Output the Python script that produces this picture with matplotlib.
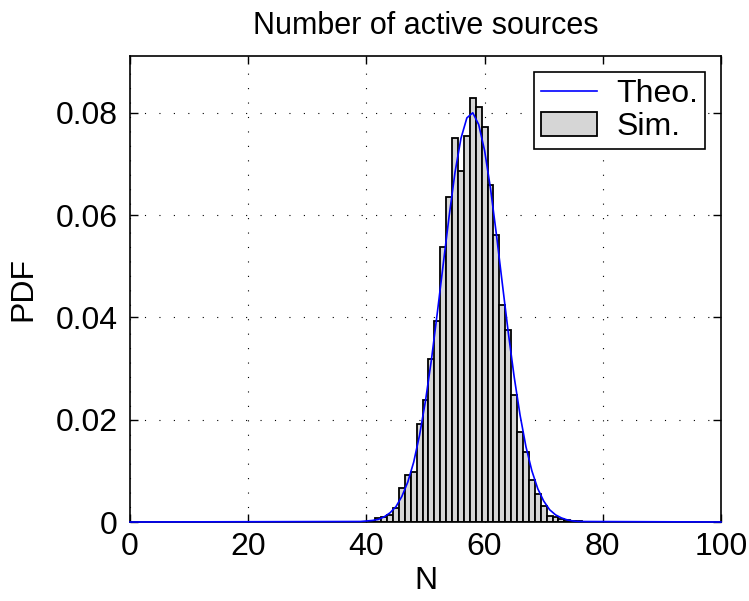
import numpy as np
import matplotlib
matplotlib.use("Agg")
import matplotlib.pyplot as plt

# simulated histogram (one bar per integer N)
sim_n = list(range(41, 77))
sim_pdf = [0.0002, 0.0008, 0.0010, 0.0013, 0.0028, 0.0066, 0.0091, 0.0098,
           0.0191, 0.0238, 0.0319, 0.0392, 0.0538, 0.0636, 0.0750, 0.0686,
           0.0754, 0.0829, 0.0811, 0.0773, 0.0658, 0.0561, 0.0425, 0.0376,
           0.0249, 0.0176, 0.0137, 0.0083, 0.0054, 0.0032, 0.0011, 0.0009,
           0.0006, 0.0004, 0.0002, 0.0001]

# theoretical pdf, read at integer N
theo_n = [0] + list(range(39, 77)) + [100]
theo_pdf = [0.0,
            0.0001, 0.0002, 0.0003, 0.0005, 0.0010, 0.0018, 0.0030, 0.0050,
            0.0078, 0.0117, 0.0170, 0.0237, 0.0317, 0.0409, 0.0504, 0.0598,
            0.0684, 0.0750, 0.0790, 0.0800, 0.0777, 0.0726, 0.0652, 0.0562,
            0.0466, 0.0371, 0.0284, 0.0209, 0.0147, 0.0100, 0.0065, 0.0041,
            0.0024, 0.0014, 0.0008, 0.0004, 0.0002, 0.0001,
            0.0]

plt.rcParams["font.family"] = ["Liberation Sans", "DejaVu Sans"]

fig = plt.figure(figsize=(7.49, 6.01), dpi=100)
ax = fig.add_axes([130 / 749, 1 - 522 / 601, 591 / 749, 466 / 601])

ax.bar(sim_n, sim_pdf, width=1.0, color="#d6d6d6", edgecolor="black",
       linewidth=1.3, label="Sim.", zorder=2)
ax.plot(theo_n, theo_pdf, color="blue", linewidth=1.2, label="Theo.",
        zorder=4, clip_on=False)

ax.set_xlim(0, 100)
ax.set_ylim(0, 0.0911)
ax.set_xticks(np.arange(0, 101, 20))
ax.set_yticks([0, 0.02, 0.04, 0.06, 0.08])
ax.set_yticklabels(["0", "0.02", "0.04", "0.06", "0.08"])
ax.tick_params(direction="in", top=True, right=True, labelsize=23, length=6,
               width=1)
ax.tick_params(axis="x", pad=7)
ax.tick_params(axis="y", pad=9)
ax.grid(True, color="black", linestyle=(0, (1, 12)), linewidth=0.8)
ax.set_axisbelow(True)
for s in ax.spines.values():
    s.set_linewidth(1.2)

ax.set_xlabel("N", fontsize=23, labelpad=3)
ax.set_ylabel("PDF", fontsize=23, labelpad=12)
ax.set_title("Number of active sources", fontsize=22, pad=16)

leg = ax.legend(loc="upper right", fontsize=23, frameon=True, fancybox=False,
                edgecolor="black", framealpha=1, borderpad=0.22,
                borderaxespad=0, handlelength=1.75, handleheight=0.8,
                handletextpad=0.6, labelspacing=0.08,
                bbox_to_anchor=(0.973, 0.966))
leg.get_frame().set_linewidth(1.2)

fig.savefig("out.png", dpi=100)
